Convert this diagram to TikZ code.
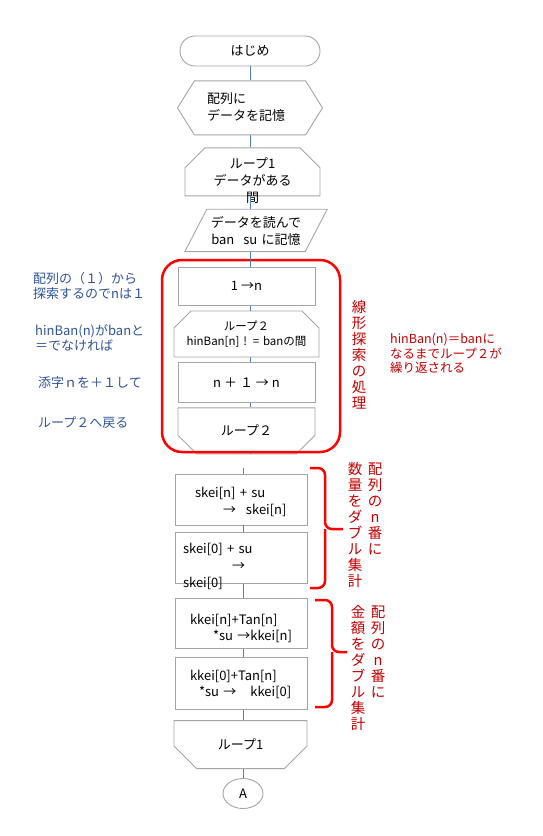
\documentclass[tikz,border=0pt]{standalone}
\usepackage{fontspec}
\setmainfont{Noto Sans CJK JP}
\usetikzlibrary{shapes.geometric,shapes.misc,shapes.symbols,positioning,calc}
\definecolor{cLine}{RGB}{79,129,189}
\definecolor{cEdge}{RGB}{165,165,165}
\definecolor{cNote}{RGB}{47,84,150}
\definecolor{cRedTxt}{RGB}{192,0,0}
\definecolor{cFrame}{RGB}{255,0,0}
\tikzset{
  basebox/.style={draw=cEdge,line width=0.9pt,fill=white,inner sep=0pt,
                  font=\fontsize{13}{17}\selectfont},
  procnode/.style={basebox,rectangle,minimum width=137pt},
  calcnode/.style={basebox,rectangle,minimum width=132pt,text width=132pt,
                   align=left},
  termnode/.style={basebox,rounded rectangle,minimum width=140pt,
                   minimum height=30pt},
  prepnode/.style={basebox,signal,signal to=west and east,
                   signal pointer angle=116,minimum width=145pt,
                   minimum height=54pt},
  loopbeg/.style={basebox,chamfered rectangle,
                  chamfered rectangle corners={north west,north east}},
  loopend/.style={basebox,chamfered rectangle,
                  chamfered rectangle corners={south west,south east}},
  iotext/.style={inner sep=0pt,font=\fontsize{13}{17}\selectfont},
  ioline/.style={draw=cEdge,line width=0.9pt},
  connnode/.style={basebox,ellipse,minimum width=40pt,minimum height=30pt},
  conn/.style={draw=cLine,line width=1pt},
  redframe/.style={draw=cFrame,line width=2.5pt,rounded corners=20pt},
  bracep/.style={draw=cFrame,line width=2.5pt,rounded corners=7pt},
  notetext/.style={inner sep=0pt,text width=150pt,align=left,text=cNote,
                   font=\fontsize{13}{15}\selectfont},
  rednote/.style={inner sep=0pt,text width=150pt,align=left,text=cRedTxt,
                  font=\fontsize{12.5}{14.5}\selectfont},
  vtext/.style={inner sep=0pt,text width=16pt,align=center,text=cRedTxt,
                font=\fontsize{14.5}{16}\selectfont}
}
\begin{document}
\begin{tikzpicture}[x=1pt,y=-1pt]
  \useasboundingbox (0,0) rectangle (542,836);
  \coordinate (axis) at (250,0);
  \coordinate (axisb) at (243,0);

  % upper part
  \node[termnode] (start) at (250,51) {はじめ};
  \node[prepnode,below=14pt of start,text width=86pt,align=left,
        text height=0pt,text depth=8pt] (prep)
      {配列に\\データを記憶};
  \node[loopbeg,below=12pt of prep,xshift=2.5pt,minimum width=135pt,
        minimum height=48pt,chamfered rectangle xsep=18pt,
        chamfered rectangle ysep=17pt,text width=120pt,align=center,
        text height=0pt,text depth=6pt] (loop1s)
      {ループ1\\データがある\\間};
  \node[iotext,below=13pt of loop1s,xshift=3.5pt,minimum width=120pt,
        minimum height=42pt,text width=120pt,align=center,
        text height=0pt,text depth=6pt] (para)
      {データを読んで\\ban\hspace{9pt}su に記憶};
  \draw[ioline] ($(para.north west)+(11,0)$) -- ($(para.north east)+(11,0)$)
      -- ($(para.south east)+(-11,0)$) -- ($(para.south west)+(-11,0)$) -- cycle;

  % linear search
  \node[procnode,below=15pt of para,xshift=-9.5pt,minimum height=38pt] (one)
      {1 →n};
  \node[loopbeg,below=5pt of one,minimum width=137pt,minimum height=46pt,
        chamfered rectangle xsep=14pt,chamfered rectangle ysep=13pt,
        text width=137pt,align=center,text height=0pt,text depth=8pt,
        font=\fontsize{11.5}{15}\selectfont] (loop2s)
      {ループ２\\hinBan[n] ! = banの間};
  \node[procnode,below=5pt of loop2s,minimum height=40pt] (incr)
      {n ＋ １ → n};
  \node[loopend,below=4pt of incr,minimum width=137pt,minimum height=46pt,
        chamfered rectangle xsep=15pt,chamfered rectangle ysep=13pt] (loop2e)
      {ループ２};
  \node[redframe,minimum width=178pt,minimum height=192pt] (frame)
      at (251,356) {};

  % totals
  \node[calcnode,minimum height=51pt,text height=0pt,text depth=3.4pt] (skein)
      at (241,499.5)
      {\hspace*{20pt}skei[n] + su\\\hspace*{48pt}→\hspace{10pt}skei[n]};
  \node[calcnode,below=7pt of skein,minimum height=51pt,text height=0pt,
        text depth=9.4pt] (skei0)
      {\hspace*{8pt}skei[0] + su\\\hspace*{57pt}→\\\hspace*{8pt}skei[0]};
  \node[calcnode,below=14pt of skei0,minimum height=50pt,text height=1.6pt,
        text depth=0pt,font=\fontsize{13}{15.5}\selectfont] (kkein)
      {\hspace*{15pt}kkei[n]+Tan[n]\\\hspace*{38pt}*su →kkei[n]};
  \node[calcnode,below=8pt of kkein,minimum height=52pt,text height=0pt,
        text depth=6.4pt,font=\fontsize{13}{16}\selectfont] (kkei0)
      {\hspace*{15pt}kkei[0]+Tan[n]\\\hspace*{24pt}*su →\hspace{14pt}kkei[0]};
  \node[loopend,below=10pt of kkei0,xshift=-0.5pt,minimum width=133pt,
        minimum height=48pt,chamfered rectangle xsep=18pt,
        chamfered rectangle ysep=17pt] (loop1e)
      {ループ1};
  \node[connnode,below=9pt of loop1e,xshift=2.5pt] (conA) {A};

  \draw[conn] (axis |- start.south) -- (axis |- prep.north);
  \draw[conn] (axis |- prep.south) -- (axis |- loop1s.north);
  \draw[conn] (axis |- loop1s.south) -- (axis |- para.north);
  \draw[conn] (axis |- para.south) -- (axis |- one.north);
  \draw[conn] (axis |- one.south) -- (axis |- loop2s.north);
  \draw[conn] (axis |- loop2s.south) -- (axis |- incr.north);
  \draw[conn] (axis |- incr.south) -- (axis |- loop2e.north);
  \draw[conn] (axis |- loop2e.south) -- (axis |- frame.south);
  \coordinate (resume) at (243,468);
  \draw[conn] (resume) -- (resume |- skein.north);
  \draw[conn] (axisb |- skein.south) -- (axisb |- skei0.north);
  \draw[conn] (axisb |- skei0.south) -- (axisb |- kkein.north);
  \draw[conn] (axisb |- kkein.south) -- (axisb |- kkei0.north);
  \draw[conn] (axisb |- kkei0.south) -- (axisb |- loop1e.north);
  \draw[conn] (axisb |- loop1e.south) -- (conA.north);

  % notes on the left
  \node[notetext,anchor=base west] (note1) at (33,283)
      {配列の（１）から\\探索するのでnは１};
  \node[notetext,anchor=base west] (note2) at (35,335)
      {hinBan(n)がbanと\\＝でなければ};
  \node[notetext,anchor=base west] (note3) at (38,387) {添字ｎを＋１して};
  \node[notetext,anchor=base west] (note4) at (38,427) {ループ２へ戻る};

  % notes on the right
  \node[vtext,anchor=base] (search) at (359,312)
      {線\\形\\探\\索\\の\\処\\理};
  \node[rednote,anchor=base west] (note5) at (390,343.5)
      {hinBan(n)＝banに\\なるまでループ２が\\繰り返される};

  \draw[bracep] (310,468) -| (325,529) -- (343,529);
  \draw[bracep] (325,529) |- (310,588);
  \node[vtext,anchor=base] (qtyA) at (375,474) {配\\列\\の\\n\\番\\に};
  \node[vtext,anchor=base] (qtyB) at (355,474)
      {数\\量\\を\\ダ\\ブ\\ル\\集\\計};

  \draw[bracep] (315,600) -| (332,652) -- (347,652);
  \draw[bracep] (332,652) |- (315,707);
  \node[vtext,anchor=base] (amtA) at (378,617) {配\\列\\の\\n\\番\\に};
  \node[vtext,anchor=base] (amtB) at (358,617)
      {金\\額\\を\\ダ\\ブ\\ル\\集\\計};
\end{tikzpicture}
\end{document}
